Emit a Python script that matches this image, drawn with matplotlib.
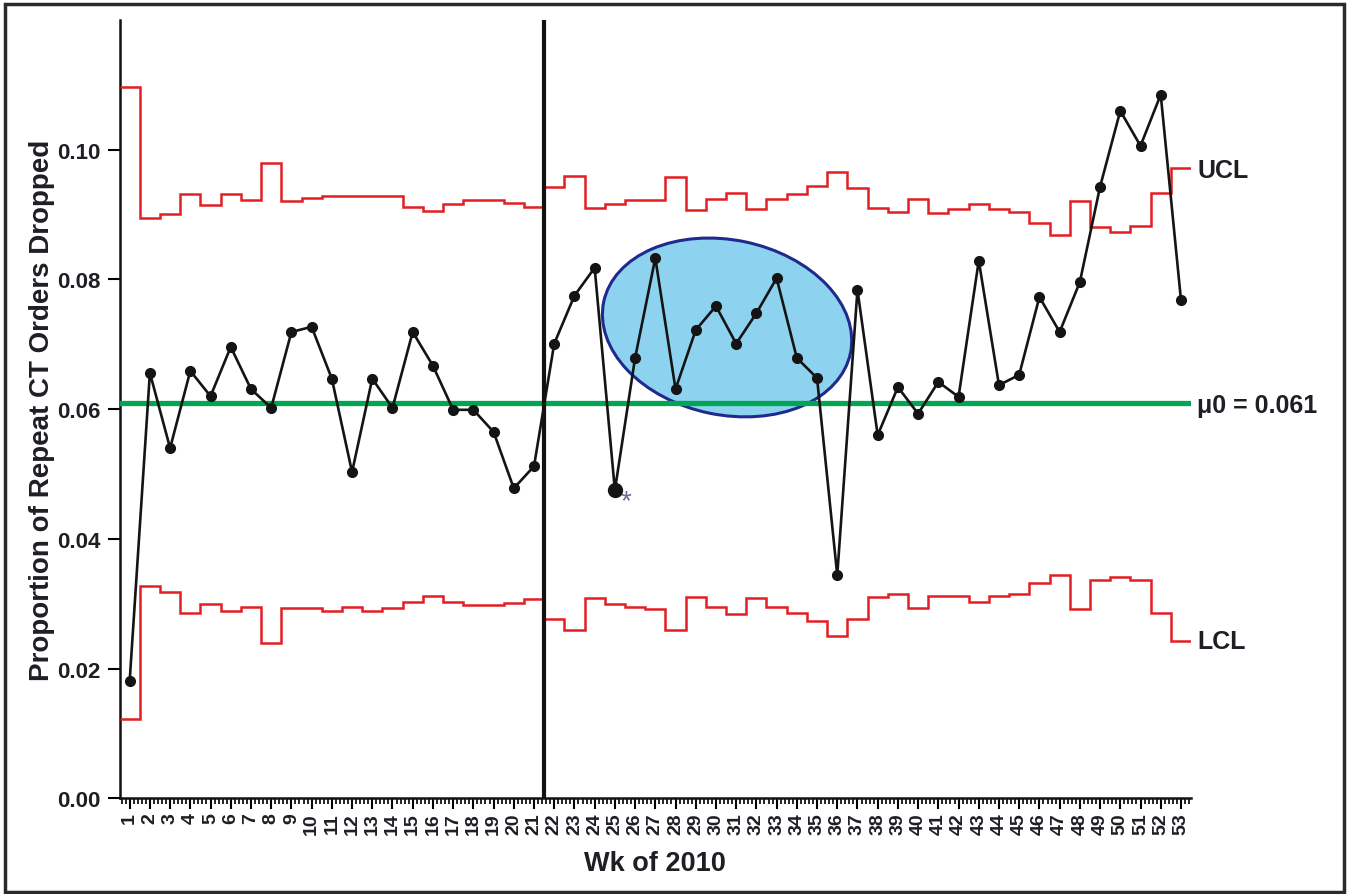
import numpy as np
import matplotlib.pyplot as plt
from matplotlib.patches import Ellipse, Rectangle
from matplotlib.ticker import AutoMinorLocator, FormatStrFormatter
from matplotlib.transforms import ScaledTranslation

plt.rcParams['font.family'] = ['Liberation Sans', 'DejaVu Sans']
plt.rcParams['font.weight'] = 'bold'
plt.rcParams['axes.labelweight'] = 'bold'

weeks = np.arange(1, 54)

# proportion of repeat CT orders dropped, per week of 2010
proportion = [0.0181, 0.0656, 0.0540, 0.0659, 0.0620, 0.0696, 0.0631, 0.0602, 0.0719, 0.0727,
              0.0647, 0.0503, 0.0647, 0.0602, 0.0719, 0.0667, 0.0599, 0.0599, 0.0565, 0.0478,
              0.0512, 0.0701, 0.0775, 0.0818, 0.0475, 0.0679, 0.0833, 0.0631, 0.0722, 0.0759,
              0.0701, 0.0748, 0.0802, 0.0679, 0.0648, 0.0344, 0.0784, 0.0560, 0.0634, 0.0593,
              0.0642, 0.0619, 0.0829, 0.0637, 0.0653, 0.0773, 0.0719, 0.0796, 0.0943, 0.1060,
              0.1006, 0.1085, 0.0769]

ucl = [0.1097, 0.0894, 0.0901, 0.0931, 0.0915, 0.0931, 0.0923, 0.0980, 0.0921, 0.0926,
       0.0929, 0.0929, 0.0929, 0.0929, 0.0912, 0.0906, 0.0917, 0.0923, 0.0923, 0.0918,
       0.0912, 0.0942, 0.0960, 0.0910, 0.0917, 0.0923, 0.0923, 0.0958, 0.0907, 0.0924,
       0.0933, 0.0909, 0.0924, 0.0932, 0.0944, 0.0966, 0.0941, 0.0910, 0.0904, 0.0924,
       0.0903, 0.0909, 0.0917, 0.0909, 0.0904, 0.0887, 0.0869, 0.0921, 0.0881, 0.0873,
       0.0883, 0.0934, 0.0972]

lcl = [0.0122, 0.0327, 0.0318, 0.0285, 0.0299, 0.0289, 0.0295, 0.0239, 0.0293, 0.0293,
       0.0289, 0.0295, 0.0289, 0.0293, 0.0302, 0.0312, 0.0302, 0.0298, 0.0298, 0.0301,
       0.0307, 0.0276, 0.0259, 0.0309, 0.0299, 0.0295, 0.0292, 0.0259, 0.0310, 0.0295,
       0.0284, 0.0309, 0.0295, 0.0285, 0.0273, 0.0251, 0.0276, 0.0310, 0.0315, 0.0293,
       0.0312, 0.0312, 0.0302, 0.0312, 0.0315, 0.0332, 0.0344, 0.0292, 0.0336, 0.0341,
       0.0336, 0.0285, 0.0242]

mu0 = 0.061
split_week = 21.5
flagged_week = 25

red = '#e31e24'
green = '#00a651'
txt = '#1e1e24'

fig = plt.figure(figsize=(13.51, 8.95), dpi=100)
ax = fig.add_axes([0.0885, 0.1069, 0.7931, 0.8696])

edges = np.arange(0.5, 54.5)
ax.stairs(ucl, edges, baseline=None, color=red, lw=1.8, zorder=3)
ax.stairs(lcl, edges, baseline=None, color=red, lw=1.8, zorder=3)

# highlighted run of points
ell = Ellipse((0, 0), 2.52, 1.75, angle=-11.7, facecolor='#8dd3ef', edgecolor='#1f2a8c',
              lw=2.2, zorder=2,
              transform=fig.dpi_scale_trans + ScaledTranslation(30.55, 0.0726, ax.transData))
ax.add_patch(ell)

ax.axhline(mu0, color=green, lw=3.8, zorder=3)
ax.axvline(split_week, color='#111111', lw=3, zorder=4)

ax.plot(weeks, proportion, '-o', color='#141414', lw=1.9, ms=7, zorder=5)
i = flagged_week - 1
ax.plot(weeks[i], proportion[i], 'o', color='#141414', ms=10, zorder=6)
ax.annotate('*', xy=(weeks[i], proportion[i]), xytext=(6, -24), textcoords='offset pixels',
            fontsize=20, fontweight='normal', color='#6e6a8e', ha='left', va='bottom')

ax.annotate('UCL', xy=(53.5, ucl[-1]), xytext=(6, -2), textcoords='offset pixels',
            fontsize=18, color=txt, ha='left', va='center', annotation_clip=False)
ax.annotate('LCL', xy=(53.5, lcl[-1]), xytext=(6, 0), textcoords='offset pixels',
            fontsize=18, color=txt, ha='left', va='center', annotation_clip=False)
ax.annotate('μ0 = 0.061', xy=(53.5, mu0), xytext=(6, -2), textcoords='offset pixels',
            fontsize=18, color=txt, ha='left', va='center', annotation_clip=False)

ax.set_xlim(0.5, 53.5)
ax.set_ylim(0, 0.12)
ax.set_xticks(weeks)
ax.set_xticklabels([str(w) for w in weeks], rotation=90)
ax.xaxis.set_minor_locator(AutoMinorLocator(5))
ax.set_yticks([0.0, 0.02, 0.04, 0.06, 0.08, 0.10])
ax.yaxis.set_major_formatter(FormatStrFormatter('%.2f'))

ax.tick_params(axis='x', which='major', length=8, width=1.5, pad=2, labelsize=14, labelcolor=txt)
ax.tick_params(axis='x', which='minor', length=4, width=1.2)
ax.tick_params(axis='y', which='major', length=9, width=1.5, pad=5, labelsize=16, labelcolor=txt)

for s in ['top', 'right']:
    ax.spines[s].set_visible(False)
for s in ['left', 'bottom']:
    ax.spines[s].set_linewidth(1.8)
    ax.spines[s].set_color('#111111')

ax.set_xlabel('Wk of 2010', fontsize=19.5, color=txt)
ax.set_ylabel('Proportion of Repeat CT Orders Dropped', fontsize=20, color=txt)
ax.xaxis.set_label_coords(0.5, -0.066)
ax.yaxis.set_label_coords(-0.060, 0.5)

fig.patches.append(Rectangle((0.0037, 0.0025), 0.9911, 0.992, transform=fig.transFigure,
                             fill=False, edgecolor='#2a2a2a', lw=2.5))

fig.savefig('out.png', dpi=100)
